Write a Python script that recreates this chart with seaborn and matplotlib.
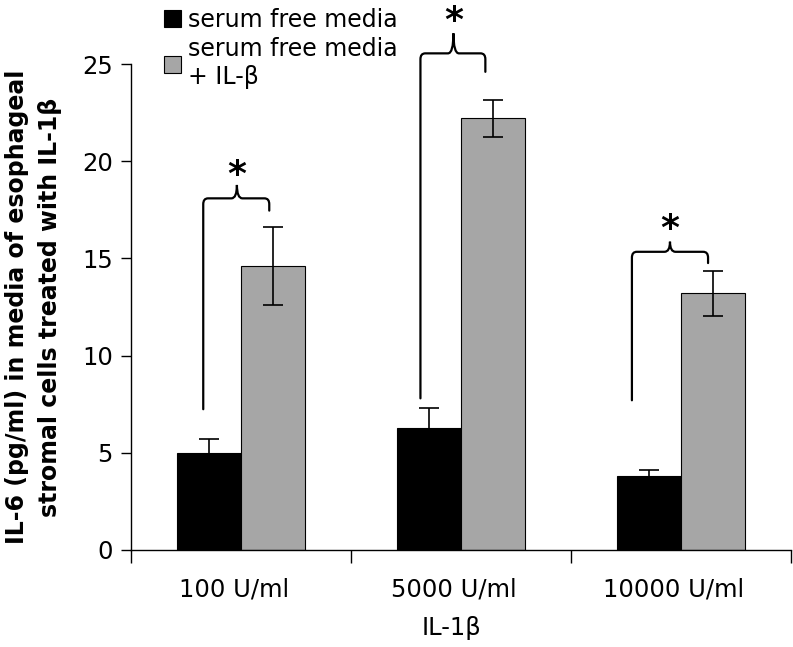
import numpy as np
import pandas as pd
import seaborn as sns
import matplotlib.pyplot as plt
import matplotlib.transforms as mtransforms
from matplotlib.path import Path
from matplotlib.patches import PathPatch, Patch

# data
doses = ['100 U/ml', '5000 U/ml', '10000 U/ml']
conditions = ['serum free media', 'serum free media\n+ IL-β']
il6_control = [5.0, 6.25, 3.82]
il6_treated = [14.6, 22.2, 13.2]
err_control = [0.7, 1.05, 0.3]
err_treated = [2.0, 0.95, 1.17]

df = pd.DataFrame({
    'dose': doses * 2,
    'condition': [conditions[0]] * 3 + [conditions[1]] * 3,
    'il6': il6_control + il6_treated,
})

sns.set_theme(style='white')
plt.rcParams['font.family'] = ['DejaVu Sans']
plt.rcParams['text.color'] = 'black'
plt.rcParams['axes.labelcolor'] = 'black'
plt.rcParams['xtick.color'] = 'black'
plt.rcParams['ytick.color'] = 'black'

fig = plt.figure(figsize=(7.93, 6.47), dpi=100)
ax = fig.add_axes([0.165, 0.15, 0.8325, 0.751])

colors = ['black', '#a6a6a6']
sns.barplot(data=df, x='dose', y='il6', hue='condition', order=doses,
            hue_order=conditions, palette=colors, width=0.58,
            errorbar=None, edgecolor='black', linewidth=0.8, ax=ax,
            legend=False)

# error bars at the bar centres
errs = err_control + err_treated
vals = il6_control + il6_treated
for bar, v, e in zip(ax.patches, vals, errs):
    cx = bar.get_x() + bar.get_width() / 2
    ax.errorbar(cx, v, yerr=e, fmt='none', ecolor='black', elinewidth=1.2,
                capsize=7, capthick=1.2)

ax.set_xlim(-0.5, 2.5)
ax.set_ylim(0, 25)
ax.set_yticks([0, 5, 10, 15, 20, 25])
ax.tick_params(axis='y', which='major', direction='out', length=7, width=1,
               labelsize=17.5, pad=6, left=True)
ax.tick_params(axis='x', which='major', length=0, labelsize=17.5, pad=20)
ax.set_xticks([-0.5, 0.5, 1.5, 2.5], minor=True)
ax.tick_params(axis='x', which='minor', direction='out', length=9, width=1,
               bottom=True)
# category labels sit a little left of the bar pairs, as in the original
shift = mtransforms.ScaledTranslation(-7 / 100, 0, fig.dpi_scale_trans)
for lab in ax.get_xticklabels():
    lab.set_transform(lab.get_transform() + shift)
for side in ['top', 'right']:
    ax.spines[side].set_visible(False)
for side in ['left', 'bottom']:
    ax.spines[side].set_color('black')
    ax.spines[side].set_linewidth(1)

ax.set_xlabel('IL-1β', fontsize=17.5, labelpad=12)
ax.xaxis.set_label_coords(0.485, -0.135)
ax.set_ylabel('IL-6 (pg/ml) in media of esophageal\nstromal cells treated with IL-1β',
              fontsize=17, fontweight='bold', labelpad=14, linespacing=1.5)


def brace(x0, x1, xm, ytop, ytip, yleft, yright):
    rx, ry = 0.022, 0.3
    tx = 0.025
    verts = [(x0, yleft), (x0, ytop - ry), (x0, ytop), (x0 + rx, ytop),
             (xm - tx, ytop), (xm, ytop), (xm, ytip),
             (xm, ytop), (xm + tx, ytop),
             (x1 - rx, ytop), (x1, ytop), (x1, ytop - ry), (x1, yright)]
    codes = [Path.MOVETO, Path.LINETO, Path.CURVE3, Path.CURVE3,
             Path.LINETO, Path.CURVE3, Path.CURVE3,
             Path.CURVE3, Path.CURVE3,
             Path.LINETO, Path.CURVE3, Path.CURVE3, Path.LINETO]
    ax.add_patch(PathPatch(Path(verts, codes), fill=False, lw=1.6,
                           edgecolor='black', clip_on=False, capstyle='round'))


# significance brackets: (left, right, tip) offsets from group centre, y levels
brackets = [
    (0, -0.171, 0.129, -0.018, 18.09, 18.78, 7.24, 17.46, 19.3),
    (1, -0.184, 0.111, -0.034, 25.55, 26.58, 7.8, 24.6, 27.2),
    (2, -0.223, 0.123, -0.05, 15.34, 15.86, 7.7, 14.76, 16.5),
]
for g, l, r, m, ytop, ytip, yl, yr, ystar in brackets:
    brace(g + l, g + r, g + m, ytop, ytip, yl, yr)
    ax.text(g + m, ystar, '*', ha='center', va='center', fontsize=26,
            fontweight='bold', clip_on=False)

handles = [Patch(facecolor=c, edgecolor='black', linewidth=0.8) for c in colors]
fig.legend(handles, conditions, loc='upper left', bbox_to_anchor=(0.195, 1.003),
           frameon=False, fontsize=17, handlelength=0.7, handleheight=0.7,
           handletextpad=0.3, labelspacing=0.25, borderaxespad=0)

fig.savefig('out.png', dpi=100)
